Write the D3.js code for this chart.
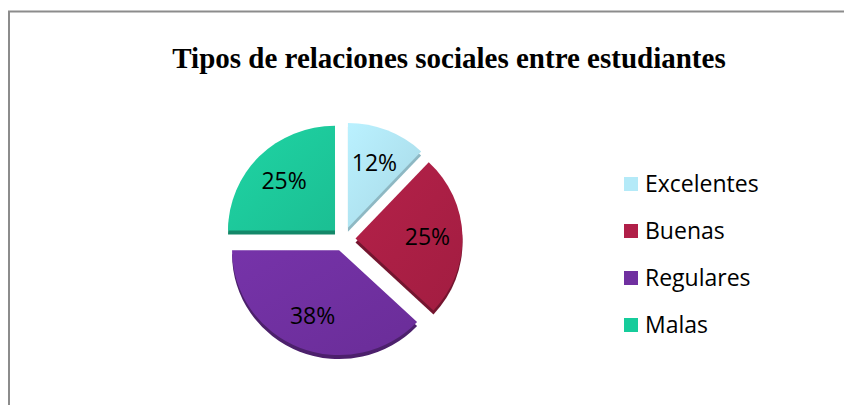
<!DOCTYPE html>
<html>
<head>
<meta charset="utf-8">
<script src="https://cdn.jsdelivr.net/npm/d3@7"></script>
<style>
 body { margin: 0; background: #fff; }
 svg { display: block; }
</style>
</head>
<body>
<svg id="chart" width="844" height="405"></svg>
<script>
// data
const categories = ["Excelentes", "Buenas", "Regulares", "Malas"];
const values = [12, 25, 38, 25];
const labels = ["12%", "25%", "38%", "25%"];
const colors = ["#b0e4f2", "#ab1f45", "#7030a0", "#1dc99b"];
const legendColors = ["#b4eaf8", "#b01f48", "#7030a0", "#16cc9b"];

const svg = d3.select("#chart");
const W = 844, H = 405;

// chart frame, cut at the right and bottom like the source
svg.append("rect")
  .attr("x", 9).attr("y", 11.5)
  .attr("width", W).attr("height", H)
  .attr("fill", "none")
  .attr("stroke", "#8c8c8c")
  .attr("stroke-width", 2);

svg.append("text")
  .attr("x", 449).attr("y", 68)
  .attr("text-anchor", "middle")
  .attr("font-family", "'Liberation Serif', 'Times New Roman', serif")
  .attr("font-weight", "bold")
  .attr("font-size", 29)
  .text("Tipos de relaciones sociales entre estudiantes");

const cx = 343.5, cy = 239, r = 107, squash = 0.98, explode = 12, depth = 4;

const pie = d3.pie().sort(null).value(d => d)(values);
const arc = d3.arc().innerRadius(0).outerRadius(r);
const labelArc = d3.arc().innerRadius(72).outerRadius(72);

// gradients for a slight shine
const defs = svg.append("defs");
colors.forEach((c, i) => {
  const g = defs.append("linearGradient")
    .attr("id", "g" + i)
    .attr("x1", "0").attr("y1", "0").attr("x2", "1").attr("y2", "1");
  g.append("stop").attr("offset", "0%").attr("stop-color", d3.color(c).brighter(0.15));
  g.append("stop").attr("offset", "100%").attr("stop-color", d3.color(c).darker(0.15));
});

function shift(d) {
  const a = (d.startAngle + d.endAngle) / 2;
  return [Math.sin(a) * explode, -Math.cos(a) * explode];
}

const pieG = svg.append("g").attr("transform", `translate(${cx},${cy})`);

// side faces first
pieG.selectAll("path.side")
  .data(pie)
  .join("path")
  .attr("class", "side")
  .attr("d", arc)
  .attr("fill", (d, i) => d3.color(colors[i]).darker(i === 0 ? 0.6 : 1.1))
  .attr("transform", d => {
    const s = shift(d);
    return `translate(${s[0]},${s[1] + depth}) scale(1,${squash})`;
  });

pieG.selectAll("path.top")
  .data(pie)
  .join("path")
  .attr("class", "top")
  .attr("d", arc)
  .attr("fill", (d, i) => `url(#g${i})`)
  .attr("transform", d => {
    const s = shift(d);
    return `translate(${s[0]},${s[1]}) scale(1,${squash})`;
  });

pieG.selectAll("text.lbl")
  .data(pie)
  .join("text")
  .attr("class", "lbl")
  .attr("transform", d => {
    const s = shift(d);
    const p = labelArc.centroid(d);
    return `translate(${p[0] + s[0]},${p[1] * squash + s[1]})`;
  })
  .attr("text-anchor", "middle")
  .attr("dy", "0.36em")
  .attr("font-family", "'Open Sans', sans-serif")
  .attr("font-size", 23)
  .attr("fill", "#000")
  .text((d, i) => labels[i]);

// legend
const ly = d3.scaleLinear().domain([0, categories.length - 1]).range([184, 325]);
const legend = svg.append("g");
const item = legend.selectAll("g")
  .data(categories)
  .join("g")
  .attr("transform", (d, i) => `translate(624,${ly(i)})`);
item.append("rect")
  .attr("x", 0).attr("y", -7)
  .attr("width", 14).attr("height", 14)
  .attr("fill", (d, i) => legendColors[i]);
item.append("text")
  .attr("x", 21).attr("dy", "0.36em")
  .attr("font-family", "'Open Sans', sans-serif")
  .attr("font-size", 23)
  .attr("fill", "#000")
  .text(d => d);
</script>
</body>
</html>
